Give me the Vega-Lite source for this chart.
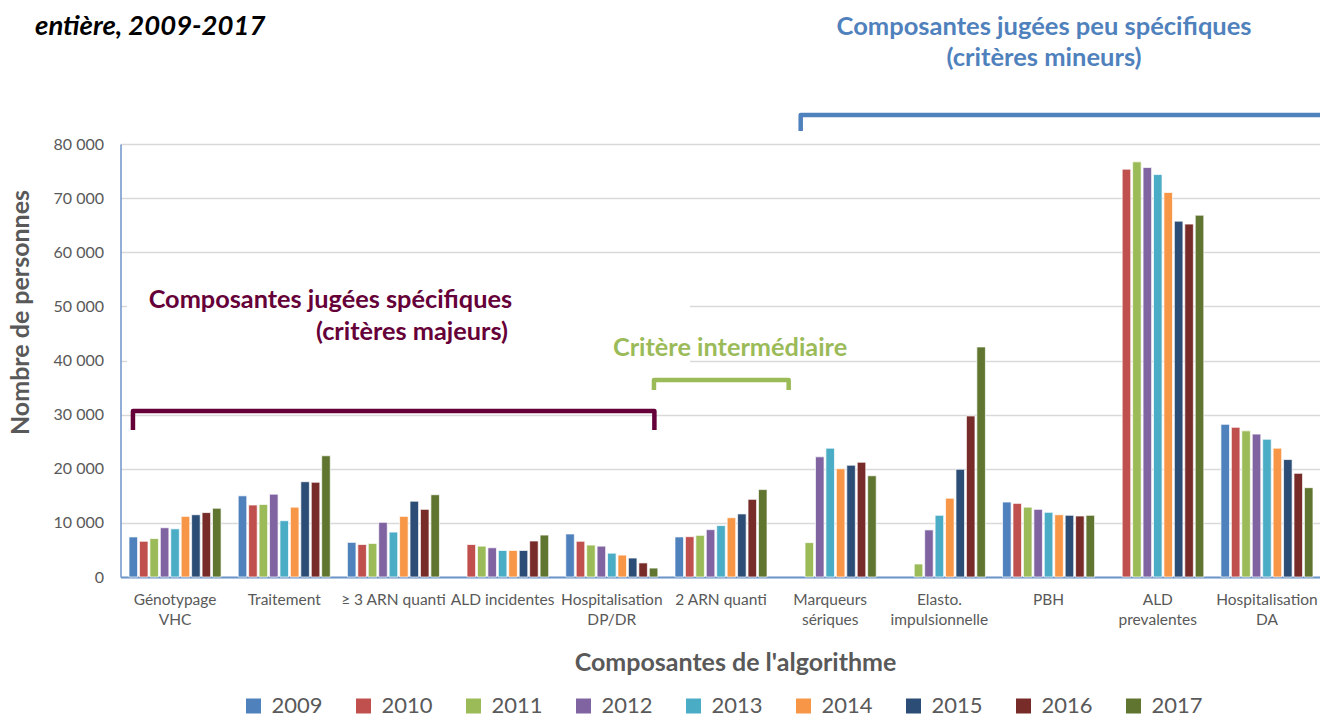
{
  "$schema": "https://vega.github.io/schema/vega-lite/v6.json",
  "autosize": {"type": "none"},
  "width": 1201,
  "height": 433,
  "padding": {"left": 120.5, "top": 144, "right": 0, "bottom": 141},
  "background": "white",
  "config": {"font": "Lato", "view": {"stroke": null}},
  "datasets": {
    "bars": [
      {"g": "Génotypage VHC", "year": "2009", "v": 7400},
      {"g": "Génotypage VHC", "year": "2010", "v": 6600},
      {"g": "Génotypage VHC", "year": "2011", "v": 7100},
      {"g": "Génotypage VHC", "year": "2012", "v": 9100},
      {"g": "Génotypage VHC", "year": "2013", "v": 8900},
      {"g": "Génotypage VHC", "year": "2014", "v": 11200},
      {"g": "Génotypage VHC", "year": "2015", "v": 11500},
      {"g": "Génotypage VHC", "year": "2016", "v": 11900},
      {"g": "Génotypage VHC", "year": "2017", "v": 12700},
      {"g": "Traitement", "year": "2009", "v": 15000},
      {"g": "Traitement", "year": "2010", "v": 13300},
      {"g": "Traitement", "year": "2011", "v": 13400},
      {"g": "Traitement", "year": "2012", "v": 15300},
      {"g": "Traitement", "year": "2013", "v": 10400},
      {"g": "Traitement", "year": "2014", "v": 12900},
      {"g": "Traitement", "year": "2015", "v": 17600},
      {"g": "Traitement", "year": "2016", "v": 17500},
      {"g": "Traitement", "year": "2017", "v": 22400},
      {"g": "≥ 3 ARN quanti", "year": "2009", "v": 6400},
      {"g": "≥ 3 ARN quanti", "year": "2010", "v": 6000},
      {"g": "≥ 3 ARN quanti", "year": "2011", "v": 6200},
      {"g": "≥ 3 ARN quanti", "year": "2012", "v": 10100},
      {"g": "≥ 3 ARN quanti", "year": "2013", "v": 8300},
      {"g": "≥ 3 ARN quanti", "year": "2014", "v": 11200},
      {"g": "≥ 3 ARN quanti", "year": "2015", "v": 14000},
      {"g": "≥ 3 ARN quanti", "year": "2016", "v": 12500},
      {"g": "≥ 3 ARN quanti", "year": "2017", "v": 15200},
      {"g": "ALD incidentes", "year": "2010", "v": 6000},
      {"g": "ALD incidentes", "year": "2011", "v": 5700},
      {"g": "ALD incidentes", "year": "2012", "v": 5400},
      {"g": "ALD incidentes", "year": "2013", "v": 4900},
      {"g": "ALD incidentes", "year": "2014", "v": 4900},
      {"g": "ALD incidentes", "year": "2015", "v": 4900},
      {"g": "ALD incidentes", "year": "2016", "v": 6650},
      {"g": "ALD incidentes", "year": "2017", "v": 7750},
      {"g": "Hospitalisation DP/DR", "year": "2009", "v": 7950},
      {"g": "Hospitalisation DP/DR", "year": "2010", "v": 6600},
      {"g": "Hospitalisation DP/DR", "year": "2011", "v": 5900},
      {"g": "Hospitalisation DP/DR", "year": "2012", "v": 5700},
      {"g": "Hospitalisation DP/DR", "year": "2013", "v": 4400},
      {"g": "Hospitalisation DP/DR", "year": "2014", "v": 4050},
      {"g": "Hospitalisation DP/DR", "year": "2015", "v": 3500},
      {"g": "Hospitalisation DP/DR", "year": "2016", "v": 2600},
      {"g": "Hospitalisation DP/DR", "year": "2017", "v": 1650},
      {"g": "2 ARN quanti", "year": "2009", "v": 7400},
      {"g": "2 ARN quanti", "year": "2010", "v": 7450},
      {"g": "2 ARN quanti", "year": "2011", "v": 7700},
      {"g": "2 ARN quanti", "year": "2012", "v": 8750},
      {"g": "2 ARN quanti", "year": "2013", "v": 9500},
      {"g": "2 ARN quanti", "year": "2014", "v": 10950},
      {"g": "2 ARN quanti", "year": "2015", "v": 11650},
      {"g": "2 ARN quanti", "year": "2016", "v": 14350},
      {"g": "2 ARN quanti", "year": "2017", "v": 16150},
      {"g": "Marqueurs sériques", "year": "2011", "v": 6350},
      {"g": "Marqueurs sériques", "year": "2012", "v": 22200},
      {"g": "Marqueurs sériques", "year": "2013", "v": 23800},
      {"g": "Marqueurs sériques", "year": "2014", "v": 20000},
      {"g": "Marqueurs sériques", "year": "2015", "v": 20650},
      {"g": "Marqueurs sériques", "year": "2016", "v": 21200},
      {"g": "Marqueurs sériques", "year": "2017", "v": 18700},
      {"g": "Elasto. impulsionnelle", "year": "2011", "v": 2400},
      {"g": "Elasto. impulsionnelle", "year": "2012", "v": 8700},
      {"g": "Elasto. impulsionnelle", "year": "2013", "v": 11400},
      {"g": "Elasto. impulsionnelle", "year": "2014", "v": 14550},
      {"g": "Elasto. impulsionnelle", "year": "2015", "v": 19900},
      {"g": "Elasto. impulsionnelle", "year": "2016", "v": 29750},
      {"g": "Elasto. impulsionnelle", "year": "2017", "v": 42500},
      {"g": "PBH", "year": "2009", "v": 13850},
      {"g": "PBH", "year": "2010", "v": 13600},
      {"g": "PBH", "year": "2011", "v": 12900},
      {"g": "PBH", "year": "2012", "v": 12500},
      {"g": "PBH", "year": "2013", "v": 11950},
      {"g": "PBH", "year": "2014", "v": 11500},
      {"g": "PBH", "year": "2015", "v": 11400},
      {"g": "PBH", "year": "2016", "v": 11270},
      {"g": "PBH", "year": "2017", "v": 11400},
      {"g": "ALD prevalentes", "year": "2010", "v": 75350},
      {"g": "ALD prevalentes", "year": "2011", "v": 76700},
      {"g": "ALD prevalentes", "year": "2012", "v": 75650},
      {"g": "ALD prevalentes", "year": "2013", "v": 74350},
      {"g": "ALD prevalentes", "year": "2014", "v": 71050},
      {"g": "ALD prevalentes", "year": "2015", "v": 65750},
      {"g": "ALD prevalentes", "year": "2016", "v": 65200},
      {"g": "ALD prevalentes", "year": "2017", "v": 66850},
      {"g": "Hospitalisation DA", "year": "2009", "v": 28200},
      {"g": "Hospitalisation DA", "year": "2010", "v": 27650},
      {"g": "Hospitalisation DA", "year": "2011", "v": 27000},
      {"g": "Hospitalisation DA", "year": "2012", "v": 26400},
      {"g": "Hospitalisation DA", "year": "2013", "v": 25450},
      {"g": "Hospitalisation DA", "year": "2014", "v": 23800},
      {"g": "Hospitalisation DA", "year": "2015", "v": 21700},
      {"g": "Hospitalisation DA", "year": "2016", "v": 19150},
      {"g": "Hospitalisation DA", "year": "2017", "v": 16500}
    ],
    "brackets": [
      {"b": "majeurs", "o": 1, "gx": 0.114, "v": 27160},
      {"b": "majeurs", "o": 2, "gx": 0.114, "v": 30670},
      {"b": "majeurs", "o": 3, "gx": 4.89, "v": 30670},
      {"b": "majeurs", "o": 4, "gx": 4.89, "v": 27160},
      {"b": "intermediaire", "o": 1, "gx": 4.886, "v": 34550},
      {"b": "intermediaire", "o": 2, "gx": 4.886, "v": 36400},
      {"b": "intermediaire", "o": 3, "gx": 6.12, "v": 36400},
      {"b": "intermediaire", "o": 4, "gx": 6.12, "v": 34550},
      {"b": "mineurs", "o": 1, "gx": 6.23, "v": 82400},
      {"b": "mineurs", "o": 2, "gx": 6.23, "v": 85360},
      {"b": "mineurs", "o": 3, "gx": 11.4, "v": 85360}
    ],
    "mask": [
      {"gx": 0.06, "gx2": 5.216, "v": 37320, "v2": 53950}
    ],
    "labels": [
      {"k": "title", "t": "entière, 2009-2017", "gx": -0.783, "v": 101620},
      {"k": "mineurs", "t": "Composantes jugées peu spécifiques", "gx": 8.459, "v": 101620},
      {"k": "mineurs", "t": "(critères mineurs)", "gx": 8.459, "v": 95890},
      {"k": "majeurs", "t": "Composantes jugées spécifiques", "gx": 3.586, "v": 51180},
      {"k": "majeurs", "t": "(critères majeurs)", "gx": 3.549, "v": 45270},
      {"k": "intermediaire", "t": "Critère intermédiaire", "gx": 5.583, "v": 42310}
    ]
  },
  "encoding": {
    "y": {
      "field": "v",
      "type": "quantitative",
      "scale": {"domain": [0, 80000], "nice": false},
      "axis": {
        "values": [0, 10000, 20000, 30000, 40000, 50000, 60000, 70000, 80000],
        "labelExpr": "replace(format(datum.value, ','), ',', ' ')",
        "labelFontSize": 16,
        "labelColor": "#595959",
        "labelPadding": 17,
        "ticks": false,
        "domainColor": "#6d95c9",
        "domainWidth": 1.5,
        "gridColor": "#d9d9d9",
        "gridWidth": 1.4,
        "title": "Nombre de personnes",
        "titleFontSize": 25,
        "titleFontWeight": "bold",
        "titleColor": "#595959",
        "titleX": -100.5,
        "titleY": 168,
        "titleAngle": 270,
        "titleAlign": "center",
        "titleBaseline": "middle"
      }
    }
  },
  "resolve": {"scale": {"x": "independent"}},
  "layer": [
    {
      "data": {"name": "bars"},
      "mark": {"type": "bar", "stroke": "white", "strokeWidth": 0.7},
      "encoding": {
        "x": {
          "field": "g",
          "type": "nominal",
          "sort": null,
          "scale": {"paddingInner": 0.157, "paddingOuter": 0.078},
          "axis": {
            "title": "Composantes de l'algorithme",
            "titleFontSize": 25,
            "titleFontWeight": "bold",
            "titleColor": "#595959",
            "titleX": 614.5,
            "titleY": 85,
            "titleAlign": "center",
            "titleBaseline": "middle",
            "labelAngle": 0,
            "labelOverlap": false,
            "labelLimit": 300,
            "labelFontSize": 15.5,
            "labelColor": "#595959",
            "labelPadding": 15,
            "labelLineHeight": 20,
            "labelExpr": "indexof(['Génotypage VHC','Hospitalisation DP/DR','Marqueurs sériques','Elasto. impulsionnelle','ALD prevalentes','Hospitalisation DA'], datum.value) >= 0 ? split(datum.value, ' ') : datum.value",
            "ticks": false,
            "domainColor": "#6d95c9",
            "domainWidth": 2
          }
        },
        "xOffset": {
          "field": "year",
          "type": "nominal",
          "scale": {"paddingInner": 0.18}
        },
        "color": {
          "field": "year",
          "type": "nominal",
          "scale": {
            "domain": ["2009", "2010", "2011", "2012", "2013", "2014", "2015", "2016", "2017"],
            "range": ["#4F81BD", "#C0504D", "#9BBB59", "#8064A2", "#4BACC6", "#F79646", "#2C4D75", "#772C2A", "#5F7530"]
          },
          "legend": {
            "title": null,
            "orient": "none",
            "legendX": 122,
            "legendY": 551,
            "direction": "horizontal",
            "columns": 9,
            "gridAlign": "all",
            "symbolType": "square",
            "symbolSize": 225,
            "symbolStrokeWidth": 0,
            "labelFontSize": 22,
            "labelColor": "#595959",
            "labelOffset": 7,
            "columnPadding": 29
          }
        }
      }
    },
    {
      "data": {"name": "mask"},
      "mark": {"type": "rect", "color": "white"},
      "encoding": {
        "x": {"field": "gx", "type": "quantitative", "scale": {"domain": [0, 11], "nice": false, "zero": false}, "axis": null},
        "x2": {"field": "gx2"},
        "y2": {"field": "v2"}
      }
    },
    {
      "data": {"name": "brackets"},
      "transform": [{"filter": "datum.b == 'majeurs'"}],
      "mark": {"type": "line", "color": "#650038", "strokeWidth": 4.5, "strokeJoin": "round", "strokeCap": "butt"},
      "encoding": {
        "x": {"field": "gx", "type": "quantitative", "scale": {"domain": [0, 11], "nice": false, "zero": false}, "axis": null},
        "order": {"field": "o"}
      }
    },
    {
      "data": {"name": "brackets"},
      "transform": [{"filter": "datum.b == 'intermediaire'"}],
      "mark": {"type": "line", "color": "#9BBB59", "strokeWidth": 4.5, "strokeJoin": "round", "strokeCap": "butt"},
      "encoding": {
        "x": {"field": "gx", "type": "quantitative", "scale": {"domain": [0, 11], "nice": false, "zero": false}, "axis": null},
        "order": {"field": "o"}
      }
    },
    {
      "data": {"name": "brackets"},
      "transform": [{"filter": "datum.b == 'mineurs'"}],
      "mark": {"type": "line", "color": "#4F81BD", "strokeWidth": 4.5, "strokeJoin": "round", "strokeCap": "butt"},
      "encoding": {
        "x": {"field": "gx", "type": "quantitative", "scale": {"domain": [0, 11], "nice": false, "zero": false}, "axis": null},
        "order": {"field": "o"}
      }
    },
    {
      "data": {"name": "labels"},
      "transform": [{"filter": "datum.k == 'title'"}],
      "mark": {"type": "text", "align": "left", "baseline": "middle", "fontSize": 27.5, "fontWeight": "bold", "fontStyle": "italic", "color": "black"},
      "encoding": {
        "x": {"field": "gx", "type": "quantitative", "scale": {"domain": [0, 11], "nice": false, "zero": false}, "axis": null},
        "text": {"field": "t"}
      }
    },
    {
      "data": {"name": "labels"},
      "transform": [{"filter": "datum.k == 'mineurs'"}],
      "mark": {"type": "text", "align": "center", "baseline": "middle", "fontSize": 25.5, "fontWeight": "bold", "color": "#4F81BD"},
      "encoding": {
        "x": {"field": "gx", "type": "quantitative", "scale": {"domain": [0, 11], "nice": false, "zero": false}, "axis": null},
        "text": {"field": "t"}
      }
    },
    {
      "data": {"name": "labels"},
      "transform": [{"filter": "datum.k == 'majeurs'"}],
      "mark": {"type": "text", "align": "right", "baseline": "middle", "fontSize": 25.3, "fontWeight": "bold", "color": "#650038"},
      "encoding": {
        "x": {"field": "gx", "type": "quantitative", "scale": {"domain": [0, 11], "nice": false, "zero": false}, "axis": null},
        "text": {"field": "t"}
      }
    },
    {
      "data": {"name": "labels"},
      "transform": [{"filter": "datum.k == 'intermediaire'"}],
      "mark": {"type": "text", "align": "center", "baseline": "middle", "fontSize": 25.3, "fontWeight": "bold", "color": "#9BBB59"},
      "encoding": {
        "x": {"field": "gx", "type": "quantitative", "scale": {"domain": [0, 11], "nice": false, "zero": false}, "axis": null},
        "text": {"field": "t"}
      }
    }
  ]
}
